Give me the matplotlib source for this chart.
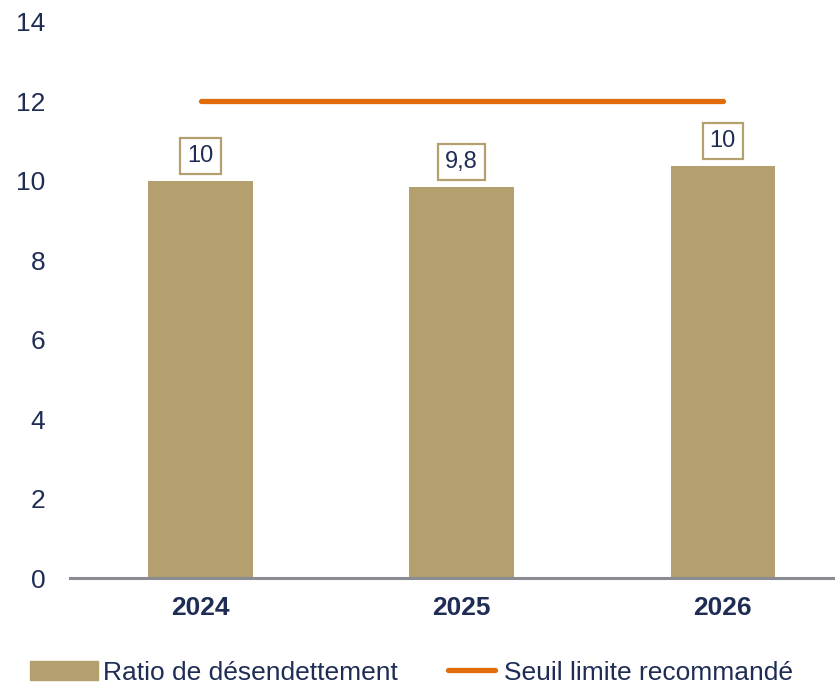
import numpy as np
import matplotlib.pyplot as plt
from matplotlib.patches import Patch
from matplotlib.lines import Line2D
from matplotlib.legend_handler import HandlerLine2D

plt.rcParams['font.family'] = ['Liberation Sans', 'DejaVu Sans']

# Ratio de désendettement par année
years = ['2024', '2025', '2026']
ratio = [10.0, 9.85, 10.37]
ratio_labels = ['10', '9,8', '10']
seuil = [12, 12, 12]

bar_color = '#b3a06e'
line_color = '#e36c0a'
text_color = '#1f2d55'


class ShortLineHandler(HandlerLine2D):
    # shorter line swatch (in points), aligned to the right of the handle box
    def get_xdata(self, legend, xdescent, ydescent, width, height, fontsize):
        return np.array([width - 36, width - 2]) - xdescent, np.array([width - 19])


fig = plt.figure(figsize=(8.35, 6.85), dpi=100)
ax = fig.add_axes([0.084, 0.156, 0.916, 0.812])

x = range(len(years))
ax.bar(x, ratio, width=0.4, color=bar_color, zorder=2)
ax.plot(x, seuil, color=line_color, linewidth=3.8, solid_capstyle='round', zorder=3)

for xi, v, lab in zip(x, ratio, ratio_labels):
    ax.annotate(lab, (xi, v), xytext=(0, 10), textcoords='offset points',
                ha='center', va='bottom', fontsize=17, color=text_color,
                bbox=dict(boxstyle='square,pad=0.3', fc='white', ec=bar_color, lw=1.6))

ax.set_xlim(-0.5, 2.43)
ax.set_ylim(0, 14)
ax.set_yticks(range(0, 15, 2))
ax.set_xticks(list(x))
ax.set_xticklabels(years, fontweight='bold')
ax.tick_params(axis='both', length=0, labelsize=19, colors=text_color)
ax.tick_params(axis='x', pad=13)
ax.tick_params(axis='y', pad=18)

for side in ['top', 'right', 'left']:
    ax.spines[side].set_visible(False)
ax.spines['bottom'].set_color('#8b8b93')
ax.spines['bottom'].set_linewidth(2.2)
ax.spines['bottom'].set_zorder(4)

seuil_handle = Line2D([], [], color=line_color, lw=3.8, solid_capstyle='round',
                      label='Seuil limite recommandé')
handles = [Patch(color=bar_color, label='Ratio de désendettement'), seuil_handle]
leg = fig.legend(handles=handles, loc='lower left', bbox_to_anchor=(0.0236, -0.015),
                 ncol=2, frameon=False, fontsize=19, handlelength=2.55,
                 handleheight=0.75, handletextpad=0.2, columnspacing=1.26,
                 borderaxespad=0.0, handler_map={seuil_handle: ShortLineHandler()})
for t in leg.get_texts():
    t.set_color(text_color)

fig.savefig('out.png', dpi=100)
